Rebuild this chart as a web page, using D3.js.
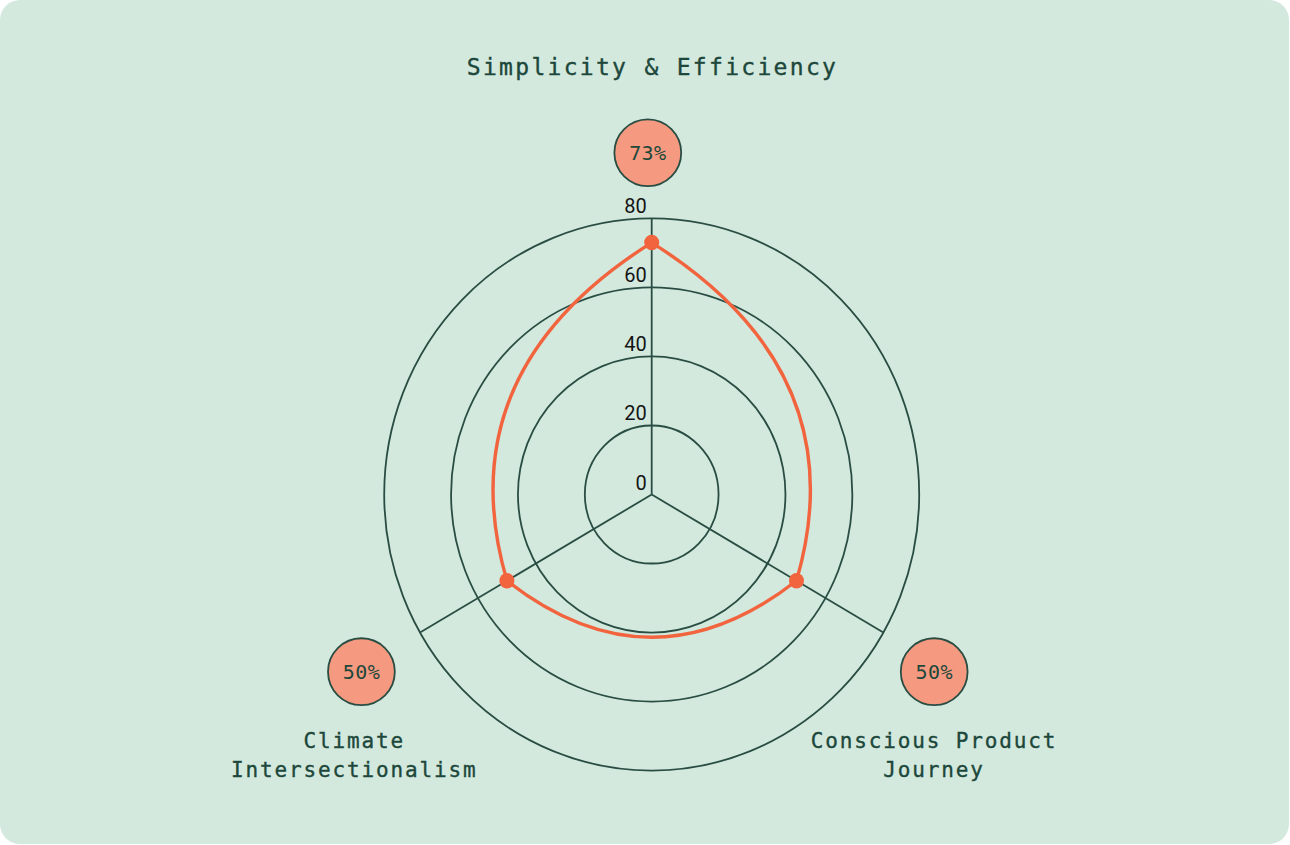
<!DOCTYPE html>
<html><head><meta charset="utf-8">
<script src="https://cdn.jsdelivr.net/npm/d3@7"></script>
<style>html,body{margin:0;padding:0;background:#fff;} svg{display:block}</style>
</head><body>
<svg id="chart" width="1290" height="845"></svg>
<script>
// ---- data ----
const categories = ["Simplicity & Efficiency", "Conscious Product Journey", "Climate Intersectionalism"];
const categoryLines = [["Simplicity & Efficiency"], ["Conscious Product", "Journey"], ["Climate", "Intersectionalism"]];
const values = [73, 50, 50];
const tickValues = [0, 20, 40, 60, 80];
const bubbleLabels = ["73%", "50%", "50%"];

// ---- layout / style ----
const cx = 651.7, cy = 494.5, sy = 1.032;
const gridColor = "#2a4d43", textColor = "#1c473a", lineColor = "#f2643e", bubbleFill = "#f59a80";
const svg = d3.select("#chart");
svg.append("rect").attr("x", 0).attr("y", 0).attr("width", 1289).attr("height", 844).attr("rx", 20).attr("fill", "#d3e9de");

const r = d3.scaleLinear().domain([0, 80]).range([0, 267.5]);
const angle = d3.scaleLinear().domain([0, categories.length]).range([0, 2 * Math.PI]);

const g = svg.append("g").attr("transform", `translate(${cx},${cy}) scale(1,${sy})`);

// rings
g.selectAll("circle.ring").data(tickValues.filter(v => v > 0)).join("circle")
  .attr("class", "ring").attr("r", d => r(d))
  .attr("fill", "none").attr("stroke", gridColor).attr("stroke-width", 1.8)
  .attr("vector-effect", "non-scaling-stroke");

// spokes
g.selectAll("line.spoke").data(categories).join("line")
  .attr("class", "spoke")
  .attr("x1", 0).attr("y1", 0)
  .attr("x2", (d, i) => r(80) * Math.sin(angle(i)))
  .attr("y2", (d, i) => -r(80) * Math.cos(angle(i)))
  .attr("stroke", gridColor).attr("stroke-width", 1.8)
  .attr("vector-effect", "non-scaling-stroke");

// tick labels
svg.selectAll("text.tick").data(tickValues).join("text")
  .attr("class", "tick")
  .attr("x", cx - 5)
  .attr("y", d => cy - r(d) * sy - 5)
  .attr("text-anchor", "end")
  .attr("font-family", "Roboto, 'Noto Sans', sans-serif")
  .attr("font-size", 20)
  .attr("fill", "#141414")
  .text(d => d);

// custom closed curve: quadratic segments with control at the mid-angle
function radarQuadClosed(context) {
  let pts = [];
  return {
    areaStart() {}, areaEnd() {},
    lineStart() { pts = []; },
    point(x, y) { pts.push([+x, +y]); },
    lineEnd() {
      const n = pts.length;
      if (!n) return;
      context.moveTo(pts[0][0], pts[0][1]);
      for (let i = 0; i < n; i++) {
        const a = pts[i], b = pts[(i + 1) % n];
        const ra = Math.hypot(a[0], a[1]), rb = Math.hypot(b[0], b[1]);
        const ta = Math.atan2(a[1], a[0]), tb = Math.atan2(b[1], b[0]);
        let d = tb - ta;
        while (d <= -Math.PI) d += 2 * Math.PI;
        while (d > Math.PI) d -= 2 * Math.PI;
        const tm = ta + d / 2;
        const rc = (ra + rb) / 2 / Math.cos(d / 4);
        context.quadraticCurveTo(rc * Math.cos(tm), rc * Math.sin(tm), b[0], b[1]);
      }
      context.closePath();
    }
  };
}

const radarLine = d3.lineRadial()
  .angle((d, i) => angle(i))
  .radius(d => r(d))
  .curve(radarQuadClosed);

g.append("path").datum(values)
  .attr("d", radarLine)
  .attr("fill", "none").attr("stroke", lineColor).attr("stroke-width", 3.4)
  .attr("vector-effect", "non-scaling-stroke");

g.selectAll("circle.dot").data(values).join("circle")
  .attr("class", "dot")
  .attr("cx", (d, i) => r(d) * Math.sin(angle(i)))
  .attr("cy", (d, i) => -r(d) * Math.cos(angle(i)))
  .attr("r", 7.5)
  .attr("fill", lineColor);

// bubbles
const bubbleValue = 98.9, bubbleSy = 1.046, bubbleDx = -3.9, bubbleDy = 4.2;
const bx = i => cx + bubbleDx + r(bubbleValue) * Math.sin(angle(i));
const by = i => cy + bubbleDy - r(bubbleValue) * bubbleSy * Math.cos(angle(i));

const bub = svg.selectAll("g.bubble").data(bubbleLabels).join("g")
  .attr("class", "bubble")
  .attr("transform", (d, i) => `translate(${bx(i)},${by(i)})`);
bub.append("circle").attr("r", 33.4)
  .attr("fill", bubbleFill).attr("stroke", gridColor).attr("stroke-width", 1.8);
bub.append("text")
  .attr("text-anchor", "middle").attr("y", 7.2)
  .attr("font-family", "'DejaVu Sans Mono', monospace")
  .attr("font-size", 20).attr("letter-spacing", 0.4)
  .attr("fill", textColor)
  .text(d => d);

// category labels
const labelDx = [4.7, -0.2, -7.2];
categoryLines.forEach((lines, i) => {
  const top = Math.cos(angle(i)) > 0.5;
  const x = bx(i) + labelDx[i];
  const y0 = top ? by(i) - 77.7 : by(i) + 76.6;
  const t = svg.append("text")
    .attr("text-anchor", "middle")
    .attr("font-family", "'DejaVu Sans Mono', monospace")
    .attr("font-size", top ? 23 : 21)
    .attr("letter-spacing", top ? 2.3 : 1.85)
    .attr("fill", textColor)
    .attr("stroke", textColor).attr("stroke-width", 0.35);
  lines.forEach((ln, k) => {
    t.append("tspan").attr("x", x).attr("y", y0 + k * 28.7).text(ln);
  });
});
</script>
</body></html>
